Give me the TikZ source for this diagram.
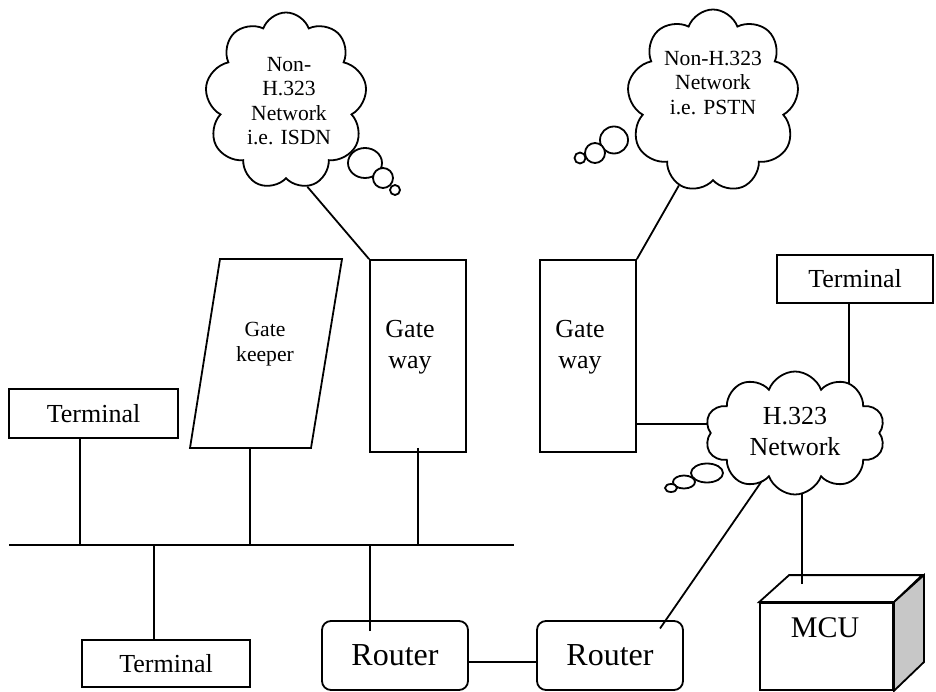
\documentclass[tikz,border=0pt]{standalone}
\usepackage{fontspec}
\setmainfont{Liberation Serif}
\usetikzlibrary{shapes.symbols,shapes.geometric,calc}

\begin{document}
\begin{tikzpicture}[x=1pt,y=-1pt, line width=1.8pt,
  box/.style={draw, rectangle, inner sep=0pt, fill=white},
  router/.style={draw, rectangle, rounded corners=9pt, minimum width=146pt,
    minimum height=69pt, inner sep=0pt, font=\fontsize{32}{36}\selectfont},
  netcloud/.style={draw, fill=white, cloud, cloud puffs=9, cloud puff arc=140,
    cloud ignores aspect, inner sep=0pt},
  bubble/.style={draw, fill=white, ellipse, inner sep=0pt},
  txtL/.style={font=\fontsize{26}{31}\selectfont, align=center, inner sep=0pt},
  txtS/.style={font=\fontsize{21.6}{24.6}\selectfont, align=center, inner sep=0pt}]
\useasboundingbox (0,0) rectangle (936,692);

% ---- LAN segment ----
\coordinate (busW) at (9,545);
\coordinate (busE) at (514,545);
\draw (busW) -- (busE);

% ---- terminals ----
\node[box, minimum width=169pt, minimum height=49pt, font=\fontsize{26}{30}\selectfont] (term1) at (93.5,413.5) {Terminal};
\node[box, minimum width=168pt, minimum height=47pt, font=\fontsize{26}{30}\selectfont] (term2) at (166,663.5) {Terminal};
\node[box, minimum width=156pt, minimum height=48pt, font=\fontsize{26}{30}\selectfont] (term3) at (855,279) {Terminal};

% ---- gatekeeper ----
\coordinate (gkTL) at (220,259);
\coordinate (gkTR) at (342,259);
\coordinate (gkBR) at (311,448);
\coordinate (gkBL) at (190,448);
\draw (gkTL) -- (gkTR) -- (gkBR) -- (gkBL) -- cycle;
\node[txtS] (gk) at (265,344) {Gate\\keeper};
\coordinate (gkfoot) at (250,448);

% ---- gateways ----
\node[box, minimum width=96pt, minimum height=192pt] (gw1) at (418,356) {};
\node[txtL] (gw1t) at (410,347) {Gate\\way};
\node[box, minimum width=96pt, minimum height=192pt] (gw2) at (588,356) {};
\node[txtL] (gw2t) at (580,347) {Gate\\way};

% ---- routers ----
\node[router] (r1) at (395,655.5) {Router};
\node[router] (r2) at (610,655.5) {Router};

% ---- MCU block ----
\node[box, minimum width=133pt, minimum height=87pt] (mcu) at (826.5,646.5) {};
\draw[fill=white] (mcu.north west) -- ++(30,-27) -- ++(133,0) -- (mcu.north east) -- cycle;
\draw[fill=black!22] (mcu.north east) -- ++(30,-27) -- ++(0,87) -- (mcu.south east) -- cycle;
\node[font=\fontsize{30}{34}\selectfont, inner sep=0pt] (mcut) at (825,628) {MCU};

% ---- connections to the LAN ----
\draw ([xshift=-13.5pt]term1.south) -- ([xshift=-13.5pt]term1.south |- busW);
\draw (gkfoot) -- (gkfoot |- busW);
\draw ([yshift=5pt]gw1.south) -- (gw1.south |- busW);
\draw ([xshift=-12pt]term2.north) -- ([xshift=-12pt]term2.north |- busW);
\draw ([xshift=-25pt,yshift=-11pt]r1.north) -- ([xshift=-25pt]r1.north |- busW);

% ---- other links ----
\draw ([yshift=-6.5pt]r1.east) -- ([yshift=-6.5pt]r2.west);
\draw ([xshift=50pt,yshift=27pt]r2.center) -- (795,433);
\draw ([yshift=29pt]gw2.south east) coordinate (g2x) -- (g2x -| 795,0);
\draw ([xshift=-6pt]term3.south) -- ([xshift=-6pt]term3.south |- 0,433);
\draw ([xshift=-24.5pt,yshift=18pt]mcu.north) -- ([xshift=-24.5pt]mcu.north |- 0,433);

% ---- networks ----
\node[netcloud, minimum width=162pt, minimum height=177pt] (cloud1) at (286,101) {};
\node[netcloud, minimum width=172pt, minimum height=183pt] (cloud2) at (713,101) {};
\node[netcloud, cloud puffs=10, minimum width=180pt, minimum height=123pt] (cloud3) at (795,433) {};
\draw (cloud1.-76) -- (gw1.north west);
\draw (cloud2.-112) -- (gw2.north east);

\node[txtS] (c1t) at (289,101) {Non-\\H.323\\Network\\i.e. ISDN};
\node[txtS] (c2t) at (713,83) {Non-H.323\\Network\\i.e. PSTN};
\node[txtL] (c3t) at (795,432) {H.323\\Network};

% thought bubbles
\node[bubble, minimum width=34pt, minimum height=30pt] (b11) at (365,163) {};
\node[bubble, minimum width=20pt, minimum height=20pt] (b12) at (383,178) {};
\node[bubble, minimum width=10pt, minimum height=10pt] (b13) at (395,190) {};
\node[bubble, minimum width=28pt, minimum height=27pt] (b21) at (614,140) {};
\node[bubble, minimum width=20pt, minimum height=20pt] (b22) at (595,153) {};
\node[bubble, minimum width=11pt, minimum height=11pt] (b23) at (580,158) {};
\node[bubble, minimum width=32pt, minimum height=19pt] (b31) at (707,473) {};
\node[bubble, minimum width=22pt, minimum height=13pt] (b32) at (684,482) {};
\node[bubble, minimum width=12pt, minimum height=8pt] (b33) at (671,488) {};
\end{tikzpicture}
\end{document}
